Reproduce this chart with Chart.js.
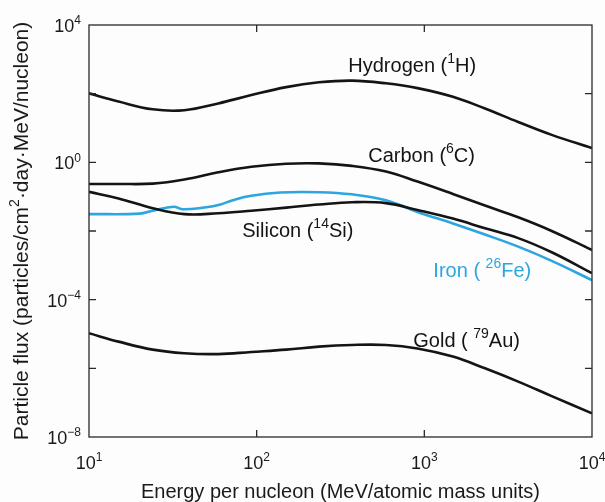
<!DOCTYPE html>
<html>
<head>
<meta charset="utf-8">
<script src="https://cdn.jsdelivr.net/npm/chart.js@4"></script>
<style>
  body { margin: 0; background: #fdfdfd; }
  canvas { display: block; }
</style>
</head>
<body>
<canvas id="flux" width="605" height="502"></canvas>
<script>
// energy per nucleon (MeV) shared by most curves
let energy = [10, 15, 24, 37, 59, 93, 150, 235, 370, 590, 910, 1480, 2300, 3630, 5750, 10000];
let hydrogen = [102, 59, 35, 33, 52, 91, 155, 214, 240, 200, 145, 81, 37, 15, 6.3, 2.6];
let carbon = [0.234, 0.234, 0.24, 0.316, 0.513, 0.74, 0.91, 0.93, 0.79, 0.54, 0.275, 0.12, 0.055, 0.025, 0.01, 0.0028];
let silicon = [0.138, 0.089, 0.046, 0.031, 0.033, 0.039, 0.048, 0.059, 0.069, 0.065, 0.041, 0.023, 0.012, 0.0062, 0.0024, 0.00059];
let gold = [1.05e-5, 6.0e-6, 3.5e-6, 2.75e-6, 2.6e-6, 3.0e-6, 3.5e-6, 4.3e-6, 4.8e-6, 4.8e-6, 3.8e-6, 2.2e-6, 1.0e-6, 4.1e-7, 1.55e-7, 4.9e-8];

// iron has its own grid because of the small wiggles at low energy
let ironEnergy = [10, 20, 24, 32, 36, 50, 60, 72, 91, 138, 235, 370, 590, 910, 1480, 2300, 3630, 5750, 10000];
let iron = [0.031, 0.032, 0.039, 0.051, 0.043, 0.049, 0.058, 0.079, 0.105, 0.132, 0.135, 0.117, 0.079, 0.036, 0.0166, 0.0079, 0.0035, 0.00135, 0.00037];

// tick labels
let xTicks = [10, 100, 1000, 10000];
let xTickExp = ["1", "2", "3", "4"];
let yTicks = [1e4, 1, 1e-4, 1e-8];
let yTickExp = ["4", "0", "\u22124", "\u22128"];
let xMinor = [100, 1000];
let yMinor = [1e2, 1, 1e-2, 1e-4, 1e-6];

let black = "#141414";
let blue = "#2ba6de";
let font = "'Liberation Sans', Arial, sans-serif";

function points(xs, ys) {
    let out = [];
    for (let i = 0; i < xs.length; i++) {
        out.push({ x: xs[i], y: ys[i] });
    }
    return out;
}

// draws text pieces, some of them raised as superscripts
function drawParts(ctx, parts, x, y, size, align) {
    let widths = parts.map((p) => {
        ctx.font = (p.sup ? Math.round(size * 0.68) : size) + "px " + font;
        return ctx.measureText(p.t).width;
    });
    let total = widths.reduce((a, b) => a + b, 0);
    let cx = x;
    if (align === "center") cx = x - total / 2;
    if (align === "right") cx = x - total;
    ctx.textAlign = "left";
    ctx.textBaseline = "alphabetic";
    parts.forEach((p, i) => {
        ctx.font = (p.sup ? Math.round(size * 0.68) : size) + "px " + font;
        ctx.fillText(p.t, cx, p.sup ? y - size * 0.42 : y);
        cx += widths[i];
    });
}

let seriesLabels = [
    { e: 352, f: 435, color: black, parts: [{ t: "Hydrogen (" }, { t: "1", sup: true }, { t: "H)" }] },
    { e: 463, f: 1.04, color: black, parts: [{ t: "Carbon (" }, { t: "6", sup: true }, { t: "C)" }] },
    { e: 82, f: 0.0068, color: black, parts: [{ t: "Silicon (" }, { t: "14", sup: true }, { t: "Si)" }] },
    { e: 1132, f: 4.7e-4, color: blue, parts: [{ t: "Iron ( " }, { t: "26", sup: true }, { t: "Fe)" }] },
    { e: 859, f: 4.3e-6, color: black, parts: [{ t: "Gold ( " }, { t: "79", sup: true }, { t: "Au)" }] }
];

let framePlugin = {
    id: "frame",
    afterDraw(chart) {
        let ctx = chart.ctx;
        let a = chart.chartArea;
        let xs = chart.scales.x;
        let ys = chart.scales.y;
        ctx.save();

        ctx.strokeStyle = "#2a2a2a";
        ctx.lineWidth = 1.3;
        ctx.strokeRect(a.left, a.top, a.right - a.left, a.bottom - a.top);

        // inward ticks on all four sides
        ctx.beginPath();
        xMinor.forEach((v) => {
            let px = xs.getPixelForValue(v);
            ctx.moveTo(px, a.bottom); ctx.lineTo(px, a.bottom - 7);
            ctx.moveTo(px, a.top); ctx.lineTo(px, a.top + 7);
        });
        yMinor.forEach((v) => {
            let py = ys.getPixelForValue(v);
            ctx.moveTo(a.left, py); ctx.lineTo(a.left + 7, py);
            ctx.moveTo(a.right, py); ctx.lineTo(a.right - 7, py);
        });
        ctx.stroke();

        ctx.fillStyle = "#1a1a1a";
        xTicks.forEach((v, i) => {
            drawParts(ctx, [{ t: "10" }, { t: xTickExp[i], sup: true }], xs.getPixelForValue(v), a.bottom + 32, 18, "center");
        });
        yTicks.forEach((v, i) => {
            drawParts(ctx, [{ t: "10" }, { t: yTickExp[i], sup: true }], a.left - 8, ys.getPixelForValue(v) + 7, 18, "right");
        });

        // axis titles
        drawParts(ctx, [{ t: "Energy per nucleon (MeV/atomic mass units)" }], (a.left + a.right) / 2, 498, 20, "center");
        ctx.save();
        ctx.translate(28, (a.top + a.bottom) / 2);
        ctx.rotate(-Math.PI / 2);
        drawParts(ctx, [{ t: "Particle flux (particles/cm" }, { t: "2", sup: true }, { t: "\u00b7day\u00b7MeV/nucleon)" }], 0, 0, 21, "center");
        ctx.restore();

        seriesLabels.forEach((l) => {
            ctx.fillStyle = l.color;
            drawParts(ctx, l.parts, xs.getPixelForValue(l.e), ys.getPixelForValue(l.f), 20, "left");
        });
        ctx.restore();
    }
};

function line(data, color) {
    return {
        data: data,
        borderColor: color,
        borderWidth: 2.6,
        pointRadius: 0,
        fill: false,
        tension: 0.4
    };
}

new Chart(document.getElementById("flux").getContext("2d"), {
    type: "line",
    data: {
        datasets: [
            line(points(energy, hydrogen), black),
            line(points(energy, carbon), black),
            line(points(energy, silicon), black),
            line(points(ironEnergy, iron), blue),
            line(points(energy, gold), black)
        ]
    },
    options: {
        responsive: false,
        animation: false,
        devicePixelRatio: 1,
        layout: { padding: { left: 89, top: 25, right: 13, bottom: 65 } },
        plugins: {
            legend: { display: false },
            tooltip: { enabled: false }
        },
        scales: {
            x: { type: "logarithmic", min: 10, max: 10000, display: false },
            y: { type: "logarithmic", min: 1e-8, max: 1e4, display: false }
        }
    },
    plugins: [framePlugin]
});
</script>
</body>
</html>
